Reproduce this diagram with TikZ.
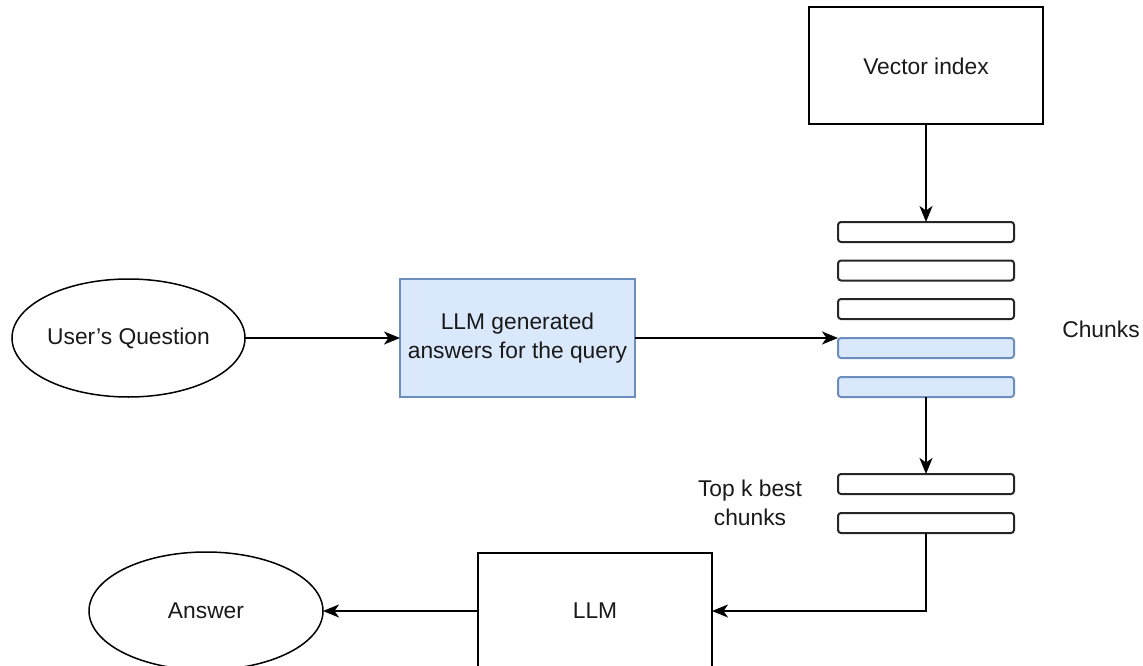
\documentclass[tikz,border=0pt]{standalone}
\usepackage{fontspec}
\setmainfont{Liberation Sans}[Ligatures=ResetAll]
\usetikzlibrary{arrows.meta,shapes.geometric}
\definecolor{bluefill}{HTML}{DAE8FC}
\definecolor{bluestroke}{HTML}{6C8EBF}
\begin{document}
\begin{tikzpicture}[x=1pt,y=-1pt,
  every node/.style={font=\fontsize{22.8}{29}\selectfont, text=black!90, inner sep=0pt, outer sep=0pt},
  box/.style={draw=black, line width=2pt, rectangle, align=center},
  bluebox/.style={draw=bluestroke, fill=bluefill, line width=2pt, rectangle, align=center},
  oval/.style={draw=black, line width=1.5pt, ellipse},
  bar/.style={draw=black!85, line width=2pt, rounded corners=3pt, minimum width=176pt, minimum height=20pt},
  bluebar/.style={bar, draw=bluestroke, fill=bluefill},
  conn/.style={line width=2pt, -{Stealth[length=16pt,width=13pt,inset=4.5pt]}},
  lbl/.style={align=center}
]
\useasboundingbox (0,0) rectangle (1143,666);
\node[box, minimum width=234pt, minimum height=117pt] (vec) at (926,66) {Vector index};
\node[bar] (c1) at (926,232) {};
\node[bar] (c2) at (926,270.5) {};
\node[bar] (c3) at (926,309) {};
\node[bluebar] (c4) at (926,348) {};
\node[bluebar] (c5) at (926,387) {};
\node[lbl] (chl) at (1101,329) {Chunks};
\node[bar] (t1) at (926,484) {};
\node[bar] (t2) at (926,523) {};
\node[lbl] (tkl) at (750,503) {Top k best\\chunks};
\node[oval, minimum width=233pt, minimum height=118pt] (uq) at (128.5,338) {User's Question};
\node[bluebox, minimum width=235pt, minimum height=118pt] (gen) at (517.5,338) {LLM generated\\answers for the query};
\node[box, minimum width=234pt, minimum height=116pt] (llm) at (595,611) {LLM};
\node[oval, minimum width=234pt, minimum height=118pt] (ans) at (206,611) {Answer};
\draw[conn] (vec.south) -- (c1.north);
\draw[conn] (uq.east) -- (gen.west);
\draw[conn] (gen.east) -- (c4.north west);
\draw[conn] (c5.south) -- (t1.north);
\draw[conn] (t2.south) |- (llm.east);
\draw[conn] (llm.west) -- (ans.east);
\end{tikzpicture}
\end{document}
